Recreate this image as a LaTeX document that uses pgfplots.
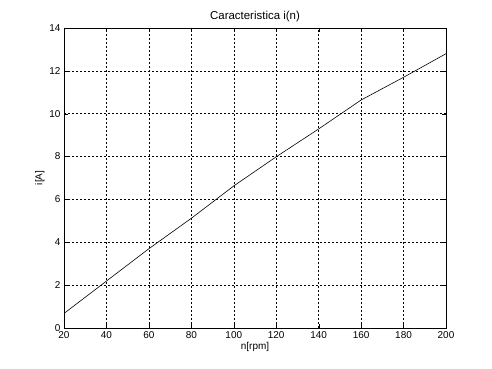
\documentclass[border=0pt]{standalone}
\usepackage{fontspec}
\setmainfont{Liberation Sans}
\usepackage{pgfplots}
\pgfplotsset{compat=1.18}
\begin{document}
\begin{tikzpicture}
\path[use as bounding box] (0,0) rectangle (492bp,369bp);
\begin{axis}[
  at={(64bp,41bp)}, anchor=south west,
  scale only axis, width=382bp, height=300bp,
  xmin=20, xmax=200, ymin=0, ymax=14,
  xtick={20,40,...,200}, ytick={0,2,...,14},
  grid=major,
  major grid style={black, dash pattern=on 2bp off 2bp, line width=0.5pt},
  axis line style={black, line width=0.6pt},
  tick style={black},
  tick align=inside,
  tick label style={font=\fontsize{10}{12}\selectfont},
  /pgf/number format/assume math mode=true,
  title={Caracteristica i(n)},
  title style={font=\fontsize{11.5}{13}\selectfont, yshift=-3pt},
  xlabel={n[rpm]}, ylabel={i[A]},
  label style={font=\fontsize{10}{12}\selectfont},
  xlabel style={yshift=3pt},
  ylabel style={yshift=-2pt},
]
\addplot[black, line width=0.6pt] coordinates {
(20,0.68) (40,2.19) (60,3.70) (80,5.12) (100,6.63) (120,7.99) (140,9.29) (160,10.64) (180,11.70) (200,12.80)
};
\end{axis}
\end{tikzpicture}
\end{document}
